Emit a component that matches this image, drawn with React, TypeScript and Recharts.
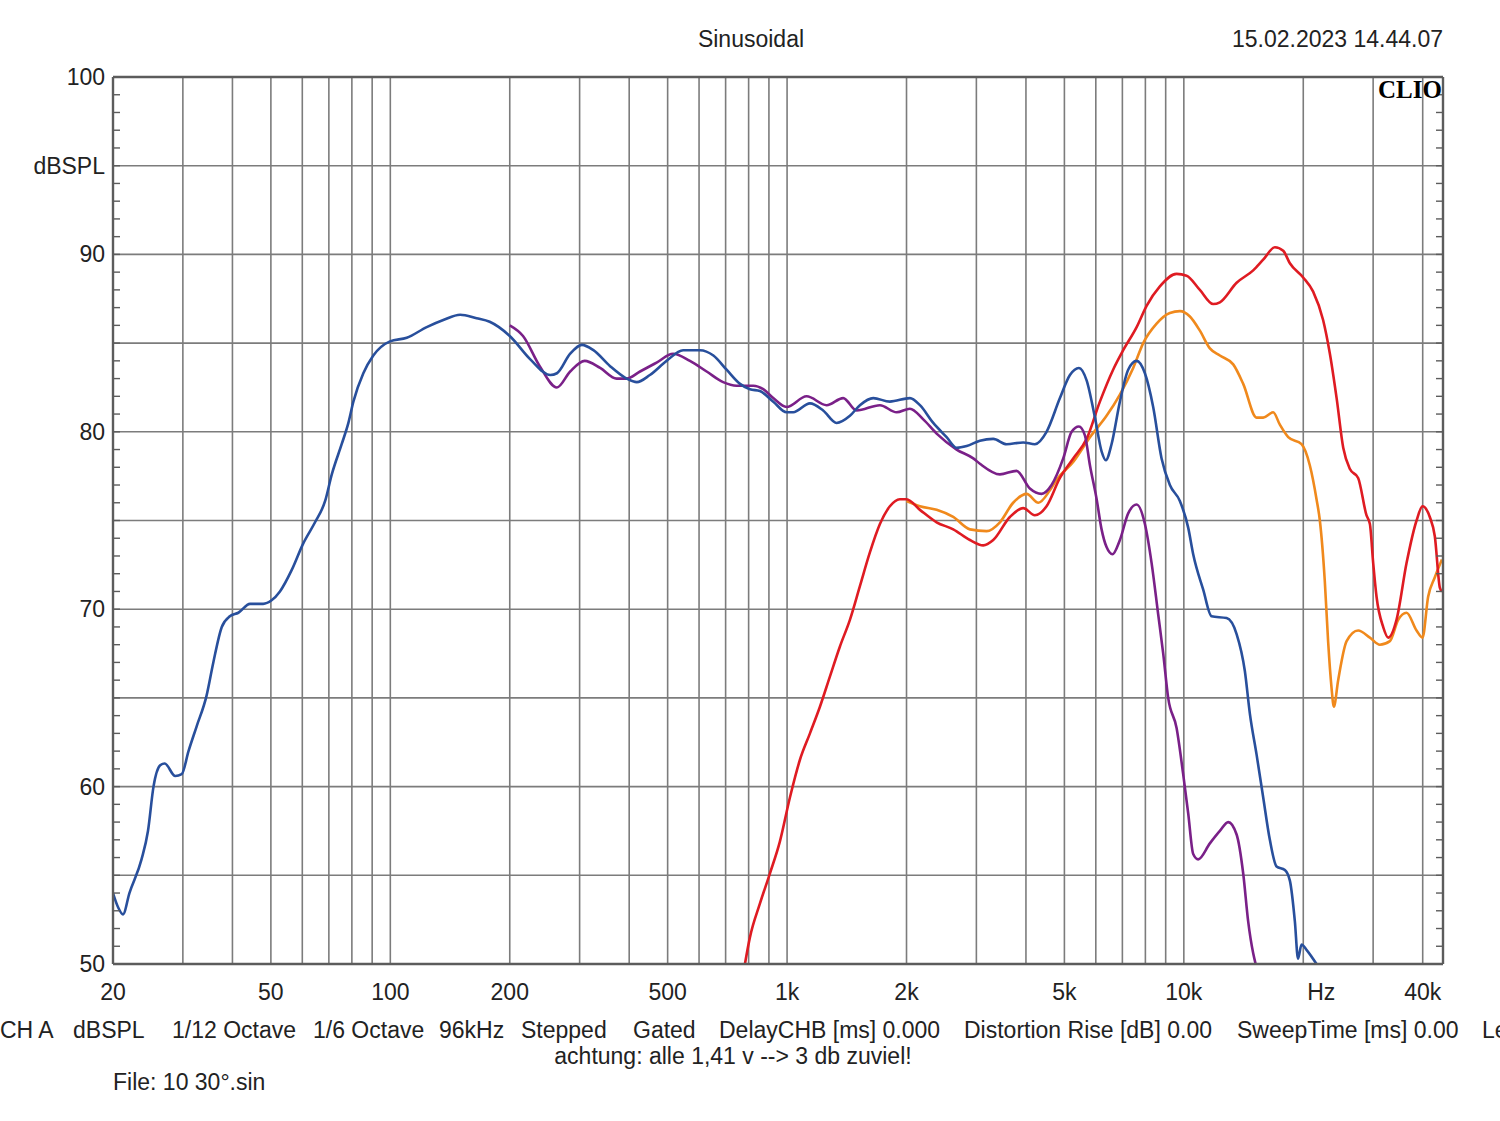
import React from 'react'
import { LineChart, Line, XAxis, YAxis, CartesianGrid } from 'recharts'

// frequency response readings, Hz / dBSPL
const blueHz = [
  20, 20.6, 21.2, 22, 23.6, 24.5, 25.3, 26.3, 27, 28.7, 29.8, 31, 32.5, 34.4, 35.8, 37.6, 39.4, 41.4, 44.3, 47.8,
  50.2, 52.7, 56.4, 60.3, 64.6, 68.5, 71.2, 75.4, 78.4, 80.7, 85.5, 90.6, 99.8, 110, 123.5, 136, 150, 165, 178,
  200, 225, 253, 263, 284, 304, 325, 358, 394, 418, 451, 497, 547, 603, 652, 704, 761, 806, 854, 923, 997, 1036,
  1142, 1233, 1333, 1440, 1526, 1649, 1816, 2040, 2162, 2336, 2524, 2675, 2836, 3062, 3308, 3574, 3937, 4212,
  4508, 4872, 5163, 5440, 5688, 5970, 6204, 6360, 6574, 6900, 7240, 7604, 7978, 8370, 8788, 9222, 9772, 10256,
  10558, 11190, 11746, 12816, 13584, 14252, 14672, 15254, 15848, 16474, 17126, 17974, 18504, 19048, 19400,
  19804, 20380, 21600,
]
const blueDb = [
  54.0, 53.2, 52.8, 54.0, 55.9, 57.5, 60.0, 61.2, 61.3, 60.6, 60.7, 62.0, 63.4, 65.1, 67.0, 69.0, 69.6, 69.8, 70.3, 70.3,
  70.5, 71.0, 72.2, 73.7, 74.9, 76.1, 77.6, 79.3, 80.5, 81.7, 83.3, 84.3, 85.1, 85.3, 85.9, 86.3, 86.6, 86.4, 86.2,
  85.4, 84.1, 83.2, 83.3, 84.4, 84.9, 84.6, 83.7, 83.0, 82.8, 83.2, 84.0, 84.6, 84.6, 84.3, 83.5, 82.7, 82.4, 82.3, 81.7, 81.1, 81.1,
  81.6, 81.2, 80.5, 80.9, 81.5, 81.9, 81.7, 81.9, 81.5, 80.5, 79.7, 79.1, 79.2, 79.5, 79.6, 79.3, 79.4, 79.3,
  80.0, 81.9, 83.2, 83.6, 82.9, 80.8, 78.9, 78.4, 79.3, 81.7, 83.5, 84.0, 83.3, 81.4, 78.5, 77.0, 76.1, 74.6,
  73.1, 71.1, 69.6, 69.5, 68.6, 66.5, 64.1, 61.8, 59.4, 57.0, 55.5, 55.3, 54.7, 52.4, 50.3,
  51.1, 50.8, 50.0,
]

const purpleHz = [
  200, 216, 238, 263, 284, 309, 338, 372, 394, 426, 469, 516, 569, 627, 690, 746, 822, 871, 923, 997,
  1120, 1258, 1385, 1497, 1714, 1888, 2040, 2204, 2382, 2675, 2946, 3062, 3439, 3788, 4092, 4380, 4641,
  4966, 5214, 5440, 5632, 5800, 6029, 6204, 6386, 6612, 6900, 7240, 7604, 7978, 8294, 8618, 8872, 9132,
  9588, 9962, 10256, 10558, 10868, 11632, 12326, 12938, 13584, 14114, 14526, 14956, 15170,
]
const purpleDb = [
  86.0, 85.4, 83.7, 82.5, 83.4, 84.0, 83.6, 83.0, 83.0, 83.4, 83.9, 84.4, 84.0, 83.4, 82.8, 82.6, 82.6, 82.4, 81.9, 81.4,
  82.0, 81.5, 81.9, 81.2, 81.5, 81.1, 81.3, 80.7, 79.9, 79.0, 78.5, 78.2, 77.6, 77.8, 76.8, 76.5, 77.0,
  78.5, 80.0, 80.3, 79.8, 78.1, 76.2, 74.5, 73.5, 73.1, 73.9, 75.4, 75.9, 74.8, 72.6, 69.7, 67.5, 65.0,
  63.3, 60.7, 58.5, 56.2, 55.9, 56.8, 57.5, 58.0, 57.3, 55.1, 52.4, 50.6, 50.0,
]

const redHz = [
  783, 806, 854, 905, 959, 1017, 1077, 1142, 1210, 1282, 1359, 1440, 1526, 1617, 1714, 1816, 1924, 2000,
  2162, 2382, 2623, 2890, 3122, 3308, 3644, 3937, 4212, 4508, 4872, 5262, 5688, 6144, 6634, 7034, 7604,
  8056, 8702, 9588, 10160, 10976, 11858, 12326, 13584, 14956, 15848, 16960, 17802, 18504, 19986, 21180,
  22440, 23340, 24270, 25220, 26220, 27500, 28860, 29440, 30010, 30600, 31800, 32740, 34360, 36420, 38600,
  39960, 41680, 42920, 44200, 44720,
]
const redDb = [
  50.0, 51.5, 53.4, 55.1, 56.9, 59.4, 61.5, 63.0, 64.5, 66.2, 67.9, 69.4, 71.3, 73.2, 74.8, 75.8, 76.2, 76.2,
  75.6, 74.9, 74.5, 73.9, 73.6, 73.9, 75.2, 75.7, 75.3, 75.8, 77.4, 78.5, 79.6, 81.7, 83.5, 84.6, 85.9,
  87.1, 88.2, 88.9, 88.8, 88.0, 87.2, 87.3, 88.4, 89.1, 89.7, 90.4, 90.2, 89.5, 88.7, 87.9,
  86.3, 84.4, 81.9, 79.1, 77.9, 77.4, 75.3, 74.8, 72.6, 70.7, 69.0, 68.4, 69.4, 72.6, 75.0,
  75.8, 75.2, 74.1, 71.2, 71.0,
]

const orangeHz = [
  2000, 2162, 2382, 2623, 2890, 3184, 3439, 3714, 4015, 4300, 4596, 4779, 5262, 5800, 6386, 6900, 7454,
  7900, 8538, 9222, 9772, 10358, 10976, 11632, 12326, 13318, 14114, 15254, 15848, 16794, 17460, 18326,
  19804, 20780, 21600, 22020, 22660, 23100, 23560, 23880, 24490, 25720, 27500, 29440, 31200, 33060, 34700,
  36420, 38600, 39960, 41280, 42920, 44720,
]
const orangeDb = [
  76.1, 75.8, 75.6, 75.2, 74.5, 74.4, 74.9, 76.0, 76.5, 76.0, 76.7, 77.3, 78.3, 79.7, 80.9, 82.1, 83.6,
  85.0, 86.1, 86.7, 86.8, 86.5, 85.7, 84.7, 84.3, 83.8, 82.7, 80.8, 80.8, 81.1, 80.4, 79.7,
  79.3, 78.1, 76.2, 75.0, 71.6, 68.2, 65.6, 64.5, 66.0, 68.2, 68.8, 68.4, 68.0, 68.2, 69.4,
  69.8, 68.8, 68.4, 70.7, 71.8, 72.8,
]

const freqTicks = [
  20, 30, 40, 50, 60, 70, 80, 90, 100, 200, 300, 400, 500, 600, 700, 800, 900, 1000, 2000, 3000, 4000,
  5000, 6000, 7000, 8000, 9000, 10000, 20000, 30000, 40000,
]
const freqLabels: Record<number, string> = {
  20: '20', 50: '50', 100: '100', 200: '200', 500: '500', 1000: '1k', 2000: '2k', 5000: '5k',
  10000: '10k', 20000: 'Hz', 40000: '40k',
}
const dbTicks = [50, 55, 60, 65, 70, 75, 80, 85, 90, 95, 100]
const dbLabels: Record<number, string> = { 50: '50', 60: '60', 70: '70', 80: '80', 90: '90', 95: 'dBSPL', 100: '100' }
const dbMinorTicks = Array.from({ length: 51 }, (_, i) => 50 + i)

const footerItems = [
  'CH A', 'dBSPL', '1/12 Octave', '1/6 Octave', '96kHz', 'Stepped', 'Gated',
  'DelayCHB [ms] 0.000', 'Distortion Rise [dB] 0.00', 'SweepTime [ms] 0.00', 'Le',
]
const footerLeft = [0, 73, 172, 313, 439, 521, 633, 719, 964, 1237, 1482]

const toPoints = (hz: number[], db: number[]) => hz.map((h, i) => ({ hz: h, db: db[i] }))

const FONT = '"Liberation Sans", Arial, sans-serif'
const GRID = '#7c7c7c'
const FRAME = '#5c5c5c'

function FreqTick(props: any) {
  const { x, y, payload } = props
  const label = freqLabels[payload.value]
  if (!label) return null
  const dx = payload.value === 20000 ? 18 : 0
  return (
    <text x={x + dx} y={y + 28} textAnchor="middle" fill="#222" fontSize={23} fontFamily={FONT}>
      {label}
    </text>
  )
}

function DbTick(props: any) {
  const { x, y, payload } = props
  const label = dbLabels[payload.value]
  if (!label) return null
  return (
    <text x={x} y={y + 8} textAnchor="end" fill="#222" fontSize={23} fontFamily={FONT}>
      {label}
    </text>
  )
}

// minor axes only need the tick marks, no labels
function EmptyTick() {
  return <g />
}

export default function App() {
  return (
    <div style={{ position: 'absolute', left: 0, top: 0, width: 1500, height: 1121, background: '#fff', fontFamily: FONT, color: '#222', overflow: 'hidden' }}>
      <div style={{ position: 'absolute', left: 651, width: 200, top: 26, textAlign: 'center', fontSize: 23 }}>Sinusoidal</div>
      <div style={{ position: 'absolute', right: 57, top: 26, fontSize: 23 }}>15.02.2023 14.44.07</div>

      <LineChart width={1500} height={1121} margin={{ top: 77, right: 57, bottom: 156, left: 112 }}>
        <CartesianGrid stroke={GRID} strokeWidth={1.6} />
        <XAxis
          type="number"
          dataKey="hz"
          scale="log"
          domain={[20, 45000]}
          allowDataOverflow
          ticks={freqTicks}
          interval={0}
          height={1}
          tickLine={false}
          axisLine={{ stroke: FRAME, strokeWidth: 2.4 }}
          tick={<FreqTick />}
        />
        <XAxis xAxisId="top" orientation="top" mirror type="number" scale="log" domain={[20, 45000]} allowDataOverflow height={1}
          tick={false} tickLine={false} axisLine={{ stroke: FRAME, strokeWidth: 2.4 }} />
        <YAxis
          type="number"
          domain={[50, 100]}
          allowDataOverflow
          ticks={dbTicks}
          interval={0}
          width={1}
          tickLine={false}
          axisLine={{ stroke: FRAME, strokeWidth: 2.4 }}
          tick={<DbTick />}
        />
        <YAxis yAxisId="minorL" orientation="left" mirror type="number" domain={[50, 100]} allowDataOverflow ticks={dbMinorTicks}
          interval={0} width={1} tick={<EmptyTick />} tickSize={7} axisLine={false}
          tickLine={{ stroke: FRAME, strokeWidth: 1.4 }} />
        <YAxis yAxisId="minorR" orientation="right" mirror type="number" domain={[50, 100]} allowDataOverflow ticks={dbMinorTicks}
          interval={0} width={1} tick={<EmptyTick />} tickSize={7} axisLine={{ stroke: FRAME, strokeWidth: 2.4 }}
          tickLine={{ stroke: FRAME, strokeWidth: 1.4 }} />

        <Line data={toPoints(orangeHz, orangeDb)} dataKey="db" type="monotone" stroke="#f0891c" strokeWidth={2.6} dot={false} isAnimationActive={false} />
        <Line data={toPoints(redHz, redDb)} dataKey="db" type="monotone" stroke="#df1b22" strokeWidth={2.6} dot={false} isAnimationActive={false} />
        <Line data={toPoints(purpleHz, purpleDb)} dataKey="db" type="monotone" stroke="#7a2088" strokeWidth={2.6} dot={false} isAnimationActive={false} />
        <Line data={toPoints(blueHz, blueDb)} dataKey="db" type="monotone" stroke="#284f9c" strokeWidth={2.6} dot={false} isAnimationActive={false} />
      </LineChart>

      <div style={{ position: 'absolute', left: 1378, top: 76, fontFamily: '"Liberation Serif", serif', fontWeight: 'bold', fontSize: 25, color: '#000' }}>CLIO</div>

      {footerItems.map((t, i) => (
        <div key={t} style={{ position: 'absolute', left: footerLeft[i], top: 1017, fontSize: 23, whiteSpace: 'nowrap' }}>{t}</div>
      ))}
      <div style={{ position: 'absolute', left: 433, width: 600, top: 1043, textAlign: 'center', fontSize: 23 }}>achtung: alle 1,41 v --&gt; 3 db zuviel!</div>
      <div style={{ position: 'absolute', left: 113, top: 1069, fontSize: 23 }}>File: 10 30°.sin</div>
    </div>
  )
}
